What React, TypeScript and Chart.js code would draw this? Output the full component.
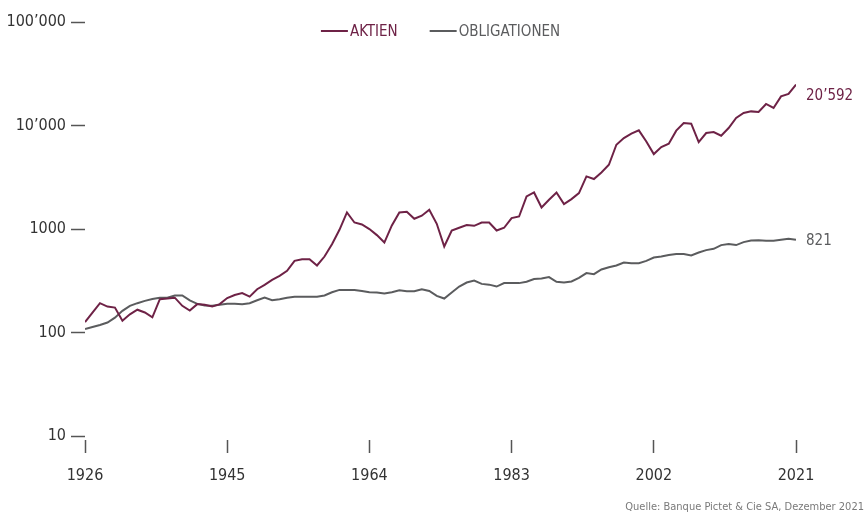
import React, { useEffect, useRef } from "react";
import { Chart, registerables } from "chart.js";

Chart.register(...registerables);

const START_YEAR = 1926;
const END_YEAR = 2021;
const YEARS: number[] = Array.from({ length: END_YEAR - START_YEAR + 1 }, (_, i) => START_YEAR + i);

// 1926 ... 2021
const AKTIEN: number[] = [
  126, 156, 192, 178, 174, 130, 150, 166, 156, 140,
  210, 213, 217, 181, 163, 188, 185, 178, 188, 215,
  230, 240, 222, 262, 289, 323, 353, 394, 492, 511,
  511, 444, 542, 714, 982, 1445, 1156, 1106, 998, 873,
  740, 1082, 1445, 1466, 1256, 1343, 1535, 1123, 678, 968,
  1028, 1091, 1074, 1156, 1156, 968, 1028, 1275, 1321, 2062,
  2254, 1614, 1915, 2254, 1741, 1945, 2223, 3221, 3040, 3519,
  4178, 6519, 7568, 8334, 8975, 7012, 5297, 6190, 6668, 8914,
  10573, 10400, 6918, 8460, 8650, 7960, 9460, 11830, 13220, 13690,
  13500, 16140, 14760, 19110, 20170, 24840,
];

const OBLIGATIONEN: number[] = [
  108, 113, 118, 125, 139, 162, 181, 192, 202, 211,
  217, 217, 228, 228, 204, 189, 182, 181, 185, 190,
  190, 188, 192, 205, 217, 205, 210, 217, 222, 222,
  222, 222, 228, 245, 258, 258, 258, 252, 245, 243,
  238, 245, 256, 250, 250, 262, 252, 226, 213, 243,
  278, 304, 318, 295, 290, 278, 300, 300, 300, 309,
  328, 332, 343, 309, 304, 311, 337, 375, 366, 406,
  427, 444, 474, 468, 468, 492, 530, 542, 560, 572,
  572, 555, 593, 625, 644, 699, 716, 699, 747, 774,
  780, 768, 768, 786, 804, 786,
];

const SERIES_LABELS = ["AKTIEN", "OBLIGATIONEN"];
const END_LABELS = ["20\u2019592", "821"];
const END_LABEL_VALUES = [20592, 821];

const X_TICKS = [1926, 1945, 1964, 1983, 2002, 2021];
const Y_TICKS = [10, 100, 1000, 10000, 100000];
const Y_TICK_LABELS = ["10", "100", "1000", "10\u2019000", "100\u2019000"];

const SOURCE = "Quelle: Banque Pictet & Cie SA, Dezember 2021";

const COLOR_A = "#6e2246";
const COLOR_B = "#5b5c5e";
const FONT_FAMILY = "'Liberation Sans Narrow', 'DejaVu Sans Condensed', 'Roboto', sans-serif";

const overlayPlugin = {
  id: "overlay",
  afterDraw(chart: any) {
    const ctx = chart.ctx;
    const area = chart.chartArea;
    const yScale = chart.scales.y;
    ctx.save();

    // legend
    ctx.font = `15px ${FONT_FAMILY}`;
    ctx.textBaseline = "middle";
    const lineW = 27;
    const gap = 2;
    const spacing = 32;
    const colors = [COLOR_A, COLOR_B];
    const widths = SERIES_LABELS.map((t) => lineW + gap + ctx.measureText(t).width);
    const total = widths.reduce((a, b) => a + b, 0) + spacing * (widths.length - 1);
    let x = (area.left + area.right) / 2 - total / 2;
    const ly = 31;
    SERIES_LABELS.forEach((t, i) => {
      ctx.strokeStyle = colors[i];
      ctx.lineWidth = 2;
      ctx.beginPath();
      ctx.moveTo(x, ly);
      ctx.lineTo(x + lineW, ly);
      ctx.stroke();
      ctx.fillStyle = colors[i];
      ctx.textAlign = "left";
      ctx.fillText(t, x + lineW + gap, ly + 1);
      x += widths[i] + spacing;
    });

    // end labels
    ctx.font = `15px ${FONT_FAMILY}`;
    END_LABELS.forEach((t, i) => {
      const py = yScale.getPixelForValue(END_LABEL_VALUES[i]);
      ctx.fillStyle = colors[i];
      ctx.textAlign = "left";
      ctx.fillText(t, area.right + 10, py + 3);
    });

    // source
    ctx.font = `11px ${FONT_FAMILY}`;
    ctx.fillStyle = "#7a7a7a";
    ctx.textAlign = "right";
    ctx.fillText(SOURCE, chart.width - 4, 507);

    ctx.restore();
  },
};

export default function App() {
  const canvasRef = useRef<HTMLCanvasElement | null>(null);

  useEffect(() => {
    const canvas = canvasRef.current;
    if (!canvas) return;
    const tickFont = { family: FONT_FAMILY, size: 16 };
    const chart = new Chart(canvas, {
      type: "line",
      data: {
        datasets: [
          {
            label: SERIES_LABELS[0],
            data: YEARS.map((yr, i) => ({ x: yr, y: AKTIEN[i] })),
            borderColor: COLOR_A,
            backgroundColor: COLOR_A,
            borderWidth: 2,
            pointRadius: 0,
            tension: 0,
          },
          {
            label: SERIES_LABELS[1],
            data: YEARS.map((yr, i) => ({ x: yr, y: OBLIGATIONEN[i] })),
            borderColor: COLOR_B,
            backgroundColor: COLOR_B,
            borderWidth: 2,
            pointRadius: 0,
            tension: 0,
          },
        ],
      },
      options: {
        animation: false,
        responsive: false,
        devicePixelRatio: 1,
        layout: { padding: { top: 22, right: 72, left: 0, bottom: 0 } },
        plugins: {
          legend: { display: false },
          tooltip: { enabled: false },
        },
        scales: {
          x: {
            type: "linear",
            min: START_YEAR,
            max: END_YEAR,
            afterBuildTicks: (s: any) => {
              s.ticks = X_TICKS.map((v) => ({ value: v }));
            },
            afterFit: (s: any) => {
              s.height = 79;
            },
            border: { display: false },
            grid: {
              drawOnChartArea: false,
              drawTicks: true,
              tickLength: 17,
              tickColor: "#555",
              tickWidth: 1.5,
              tickBorderDash: [0, 4, 13, 100],
            },
            ticks: {
              autoSkip: false,
              maxRotation: 0,
              padding: 13,
              color: "#333",
              font: tickFont,
              callback: (v: any) => String(v),
            },
          },
          y: {
            type: "logarithmic",
            min: 10,
            max: 100000,
            afterBuildTicks: (s: any) => {
              s.ticks = Y_TICKS.map((v) => ({ value: v }));
            },
            afterFit: (s: any) => {
              s.width = 85;
            },
            border: { display: false },
            grid: {
              drawOnChartArea: false,
              drawTicks: true,
              tickLength: 14,
              tickColor: "#555",
              tickWidth: 1.5,
            },
            ticks: {
              autoSkip: false,
              padding: 5,
              color: "#333",
              font: tickFont,
              callback: (v: any) => {
                const idx = Y_TICKS.indexOf(Number(v));
                return idx >= 0 ? Y_TICK_LABELS[idx] : "";
              },
            },
          },
        },
      },
      plugins: [overlayPlugin],
    } as any);
    return () => chart.destroy();
  }, []);

  return (
    <div style={{ position: "absolute", left: 0, top: 0, width: 868, height: 515, background: "#fff" }}>
      <canvas ref={canvasRef} width={868} height={515} style={{ display: "block" }} />
    </div>
  );
}
